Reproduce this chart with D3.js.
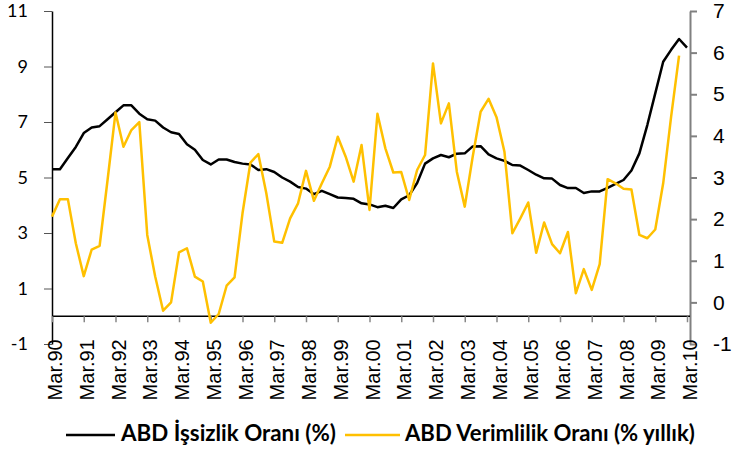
<!DOCTYPE html>
<html>
<head>
<meta charset="utf-8">
<script src="https://cdn.jsdelivr.net/npm/d3@7"></script>
<style>
  html, body { margin: 0; padding: 0; background: #fff; }
  svg { display: block; }
</style>
</head>
<body>
<svg id="chart" width="733" height="454"></svg>
<script>
// ---- Data (quarterly, Mar.90 .. Mar.10) ----
const tickLabels = ["Mar.90","Mar.91","Mar.92","Mar.93","Mar.94","Mar.95","Mar.96","Mar.97","Mar.98","Mar.99","Mar.00","Mar.01","Mar.02","Mar.03","Mar.04","Mar.05","Mar.06","Mar.07","Mar.08","Mar.09","Mar.10"];

// ABD İşsizlik Oranı (%) — left axis
const unemployment = [
  5.3, 5.3, 5.7, 6.1, 6.6, 6.8, 6.85, 7.1, 7.35, 7.6, 7.6, 7.3, 7.1, 7.05, 6.8, 6.63,
  6.57, 6.2, 6.0, 5.63, 5.47, 5.65, 5.65, 5.56, 5.5, 5.47, 5.27, 5.3, 5.2, 5.0, 4.85, 4.66,
  4.6, 4.4, 4.52, 4.4, 4.28, 4.26, 4.23, 4.07, 4.03, 3.93, 3.98, 3.9, 4.21, 4.36, 4.8, 5.5,
  5.69, 5.81, 5.73, 5.86, 5.87, 6.12, 6.13, 5.83, 5.69, 5.6, 5.45, 5.43, 5.27, 5.1, 4.97, 4.96,
  4.73, 4.62, 4.62, 4.44, 4.5, 4.5, 4.63, 4.77, 4.91, 5.25, 5.87, 6.89, 8.03, 9.17, 9.6, 9.99,
  9.68
];

// ABD Verimlilik Oranı (% yıllık) — right axis
const productivity = [
  2.06, 2.48, 2.48, 1.42, 0.63, 1.27, 1.36, 2.94, 4.56, 3.74, 4.14, 4.33, 1.62, 0.62, -0.2, 0.0,
  1.2, 1.3, 0.62, 0.5, -0.49, -0.28, 0.4, 0.6, 2.14, 3.36, 3.56, 2.62, 1.46, 1.43, 2.02, 2.38,
  3.16, 2.44, 2.86, 3.26, 3.98, 3.5, 2.9, 3.78, 2.22, 4.53, 3.7, 3.12, 3.13, 2.46, 3.18, 3.54,
  5.74, 4.3, 4.78, 3.14, 2.3, 3.5, 4.58, 4.89, 4.45, 3.62, 1.66, 2.02, 2.4, 1.19, 1.92, 1.4,
  1.18, 1.69, 0.22, 0.8, 0.3, 0.92, 2.96, 2.86, 2.73, 2.71, 1.62, 1.54, 1.75, 2.86, 4.46, 5.93
];

const leftTicks = [-1, 1, 3, 5, 7, 9, 11];
const rightTicks = [-1, 0, 1, 2, 3, 4, 5, 6, 7];
const seriesNames = ["ABD İşsizlik Oranı (%)", "ABD Verimlilik Oranı (% yıllık)"];
const seriesColors = ["#000000", "#FFC000"];

// ---- Layout ----
const svg = d3.select("#chart");
const plotLeft = 52, plotRight = 690, plotTop = 11, plotBottom = 344;

const x = d3.scaleLinear().domain([0, 80]).range([52, 687]);
const yL = d3.scaleLinear().domain([-1, 11]).range([plotBottom, plotTop]);
const yR = d3.scaleLinear().domain([-1, 7]).range([plotBottom, plotTop]);
const fmt = d => String(d);

// Left axis
const gL = svg.append("g").attr("transform", `translate(${plotLeft},0)`)
  .call(d3.axisLeft(yL).tickValues(leftTicks).tickFormat(fmt).tickSize(8).tickSizeOuter(0).tickPadding(16));
gL.select(".domain").attr("stroke", "#000").attr("stroke-width", 1.5);
gL.selectAll(".tick line").attr("stroke", "#555").attr("stroke-width", 1);
gL.selectAll(".tick text").attr("font-family", "Lato, 'Liberation Sans', sans-serif")
  .attr("font-size", 18).attr("fill", "#000");

// Right axis
const gR = svg.append("g").attr("transform", `translate(${plotRight},0)`)
  .call(d3.axisRight(yR).tickValues(rightTicks).tickFormat(fmt).tickSize(7).tickSizeOuter(0).tickPadding(16));
gR.select(".domain").attr("stroke", "#808080").attr("stroke-width", 2);
gR.selectAll(".tick line").attr("stroke", "#808080").attr("stroke-width", 2);
gR.selectAll(".tick text").attr("font-family", "'Liberation Sans', Arial, sans-serif")
  .attr("font-size", 21).attr("fill", "#000");

// X axis (at left value 0)
const tickIdx = tickLabels.map((d, i) => i * 4);
const gX = svg.append("g").attr("transform", `translate(0,${yL(0)})`)
  .call(d3.axisBottom(x).tickValues(tickIdx).tickSize(6).tickSizeOuter(0)
    .tickFormat((d, i) => tickLabels[i]));
gX.select(".domain").attr("d", `M${plotLeft},0H${plotRight}`).attr("stroke", "#000").attr("stroke-width", 1.5);
gX.selectAll(".tick line").attr("stroke", "#888").attr("stroke-width", 1.5);
gX.selectAll(".tick text")
  .attr("font-family", "'Liberation Sans', Arial, sans-serif")
  .attr("font-size", 20).attr("fill", "#000")
  .attr("text-anchor", "end")
  .attr("dy", 0).attr("y", 0)
  .attr("transform", "translate(9.5,23) rotate(-90)");

// Lines
const lineL = d3.line().x((d, i) => x(i)).y(d => yL(d));
const lineR = d3.line().x((d, i) => x(i)).y(d => yR(d));

svg.append("path").datum(unemployment)
  .attr("fill", "none").attr("stroke", seriesColors[0]).attr("stroke-width", 2.5)
  .attr("stroke-linejoin", "round").attr("d", lineL);

svg.append("path").datum(productivity)
  .attr("fill", "none").attr("stroke", seriesColors[1]).attr("stroke-width", 2.5)
  .attr("stroke-linejoin", "round").attr("d", lineR);

// Legend
const legendItems = [
  { lx1: 66, lx2: 115, tx: 121, tw: 215 },
  { lx1: 345, lx2: 400, tx: 405, tw: 290 }
];
const legY = 435;
legendItems.forEach((it, i) => {
  svg.append("line").attr("x1", it.lx1).attr("x2", it.lx2).attr("y1", legY).attr("y2", legY)
    .attr("stroke", seriesColors[i]).attr("stroke-width", 2.5);
  const t = svg.append("text").attr("x", it.tx).attr("y", 441)
    .attr("font-family", "Lato, 'Open Sans', sans-serif").attr("font-weight", "bold")
    .attr("font-size", 20).attr("fill", "#000").text(seriesNames[i]);
  const w = t.node().getComputedTextLength();
  t.attr("font-size", 20 * it.tw / w);
});
</script>
</body>
</html>
